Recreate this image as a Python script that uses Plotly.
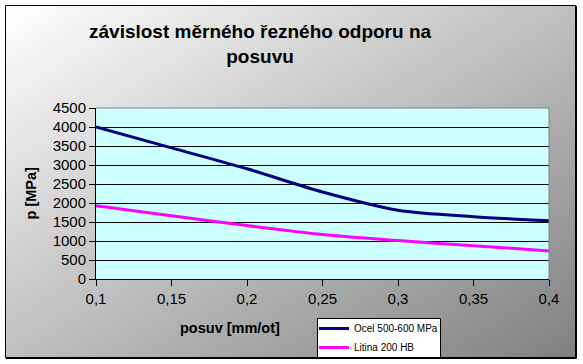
import plotly.graph_objects as go

# ---- data ----
posuv = [0.1, 0.15, 0.2, 0.25, 0.3, 0.35, 0.4]
ocel = [4000, 3450, 2900, 2290, 1810, 1640, 1530]
litina = [1930, 1665, 1405, 1170, 1010, 875, 740]
series_names = ["Ocel 500-600 MPa", "Litina 200 HB"]
x_tickvals = [0.1, 0.15, 0.2, 0.25, 0.3, 0.35, 0.4]
x_ticktext = ["0,1", "0,15", "0,2", "0,25", "0,3", "0,35", "0,4"]
y_tickvals = [0, 500, 1000, 1500, 2000, 2500, 3000, 3500, 4000, 4500]
title_text = "závislost měrného řezného odporu na<br>posuvu"
x_title = "posuv [mm/ot]"
y_title = "p [MPa]"

W, H = 583, 364
L, R, T, B = 96, 34, 108, 85
pw, ph = W - L - R, H - T - B

def px(x):
    return (x - L) / pw

def py(y):
    return (H - B - y) / ph

FONT = "Liberation Sans, Arial, sans-serif"

fig = go.Figure()
fig.add_trace(go.Scatter(x=posuv, y=ocel, name=series_names[0], mode="lines",
                         line=dict(color="#000080", width=3, shape="spline", smoothing=0.8)))
fig.add_trace(go.Scatter(x=posuv, y=litina, name=series_names[1], mode="lines",
                         line=dict(color="#FF00FF", width=3, shape="spline", smoothing=0.8)))

svg = ("data:image/svg+xml;utf8,"
       "<svg xmlns='http://www.w3.org/2000/svg' width='571' height='353' preserveAspectRatio='none'>"
       "<defs><linearGradient id='g' x1='0' y1='0' x2='1' y2='1'>"
       "<stop offset='0' stop-color='%23ffffff'/><stop offset='1' stop-color='%23808080'/>"
       "</linearGradient></defs><rect width='571' height='353' fill='url(%23g)'/></svg>")

fig.add_layout_image(dict(source=svg, xref="paper", yref="paper",
                          x=px(5), y=py(5), sizex=(576 - 5) / pw, sizey=(358 - 5) / ph,
                          xanchor="left", yanchor="top", sizing="stretch", layer="below"))

shapes = [
    dict(type="rect", xref="paper", yref="paper", x0=0, x1=1, y0=0, y1=1,
         fillcolor="#CCFFFF", line=dict(width=0), layer="below"),
    dict(type="line", xref="paper", yref="paper", x0=0, x1=1, y0=1, y1=1,
         line=dict(color="#808080", width=1), layer="above"),
    dict(type="line", xref="paper", yref="paper", x0=1, x1=1, y0=0, y1=1,
         line=dict(color="#808080", width=1), layer="above"),
    dict(type="rect", xref="paper", yref="paper", x0=px(5.5), x1=px(575.5), y0=py(5.5), y1=py(357.5),
         line=dict(color="black", width=1), layer="below"),
    dict(type="line", xref="paper", yref="paper", x0=px(576.5), x1=px(576.5), y0=py(6), y1=py(358.5),
         line=dict(color="black", width=1), layer="below"),
    dict(type="line", xref="paper", yref="paper", x0=px(6), x1=px(576.5), y0=py(358.5), y1=py(358.5),
         line=dict(color="black", width=1), layer="below"),
    # legend box
    dict(type="rect", xref="paper", yref="paper", x0=px(317.5), x1=px(440.5), y0=py(318.5), y1=py(357.5),
         fillcolor="white", line=dict(color="black", width=1), layer="below"),
]

annotations = [
    dict(text=title_text, xref="paper", yref="paper", x=px(260), y=py(44),
         xanchor="center", yanchor="middle", showarrow=False,
         font=dict(family=FONT, size=19, color="black", weight="bold")),
    dict(text=y_title, xref="paper", yref="paper", x=px(30), y=0.5, textangle=-90,
         xanchor="center", yanchor="middle", showarrow=False,
         font=dict(family=FONT, size=14.5, color="black", weight="bold")),
    dict(text=x_title, xref="paper", yref="paper", x=px(230), y=py(328),
         xanchor="center", yanchor="middle", showarrow=False,
         font=dict(family=FONT, size=14.5, color="black", weight="bold")),
]

fig.update_layout(
    width=W, height=H,
    margin=dict(l=L, r=R, t=T, b=B, pad=0, autoexpand=False),
    paper_bgcolor="white",
    plot_bgcolor="#CCFFFF",
    separators=", ",
    font=dict(family=FONT, size=15, color="black"),
    shapes=shapes,
    annotations=annotations,
    showlegend=True,
    legend=dict(x=px(314), y=py(314), xanchor="left", yanchor="top",
                bgcolor="rgba(0,0,0,0)", borderwidth=0,
                font=dict(family=FONT, size=10, color="black"),
                itemwidth=30, tracegroupgap=0),
    xaxis=dict(range=[0.1, 0.4], tickvals=x_tickvals, ticktext=x_ticktext,
               showgrid=False, zeroline=False, showline=True, linecolor="black", linewidth=1,
               ticks="outside", ticklen=6, tickcolor="black",
               tickfont=dict(family=FONT, size=15, color="black")),
    yaxis=dict(range=[0, 4500], tickvals=y_tickvals,
               showgrid=True, gridcolor="black", gridwidth=1, zeroline=False,
               showline=True, linecolor="black", linewidth=1,
               ticks="outside", ticklen=6, tickcolor="black",
               tickfont=dict(family=FONT, size=15, color="black")),
)

fig.write_html("out.html", config={"displayModeBar": False},
               post_script="document.body.style.margin='0';")
